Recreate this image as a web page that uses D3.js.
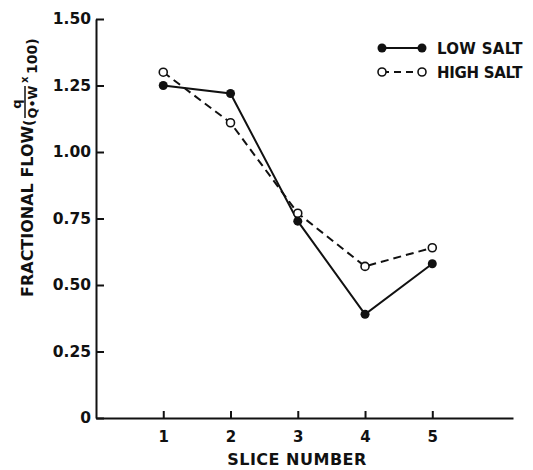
<!DOCTYPE html>
<html>
<head>
<meta charset="utf-8">
<script src="https://cdn.jsdelivr.net/npm/d3@7"></script>
<style>
  body { margin: 0; background: #fff; }
  text { font-family: "DejaVu Sans", sans-serif; font-weight: bold; fill: #111; }
</style>
</head>
<body>
<div id="chart"></div>
<script>
// data
const slices = [1, 2, 3, 4, 5];
const lowSalt = [1.25, 1.22, 0.74, 0.39, 0.58];
const highSalt = [1.30, 1.11, 0.77, 0.57, 0.64];
const yTicks = [0, 0.25, 0.5, 0.75, 1.0, 1.25, 1.5];
const yTickLabels = ["0", "0.25", "0.50", "0.75", "1.00", "1.25", "1.50"];
const seriesNames = ["LOW SALT", "HIGH SALT"];

const width = 533, height = 470;
const fontFamily = "'DejaVu Sans', sans-serif";

const svg = d3.select("#chart").append("svg")
    .attr("width", width)
    .attr("height", height);

const x = d3.scaleLinear().domain([0, 6.2]).range([96, 513]);
const y = d3.scaleLinear().domain([0, 1.5]).range([418, 19]);

// Y axis (ticks point inward)
svg.append("g")
    .attr("transform", `translate(${x(0)},0)`)
    .call(d3.axisLeft(y)
        .tickValues(yTicks)
        .tickFormat((d, i) => yTickLabels[i])
        .tickSizeInner(-8)
        .tickSizeOuter(0)
        .tickPadding(5))
    .call(g => g.selectAll("path, line").attr("stroke", "#111").attr("stroke-width", 2))
    .call(g => g.selectAll("text")
        .style("font-size", "15.5px")
        .style("font-family", fontFamily)
        .style("font-weight", "bold")
        .attr("fill", "#111"));

// X axis
svg.append("g")
    .attr("transform", `translate(0,${y(0)})`)
    .call(d3.axisBottom(x)
        .tickValues(slices)
        .tickFormat(d3.format("d"))
        .tickSizeInner(-7)
        .tickSizeOuter(0)
        .tickPadding(13))
    .call(g => g.selectAll("path, line").attr("stroke", "#111").attr("stroke-width", 2))
    .call(g => g.selectAll("text")
        .style("font-size", "15px")
        .style("font-family", fontFamily)
        .style("font-weight", "bold")
        .attr("fill", "#111"));

// Axis titles
svg.append("text")
    .attr("x", 297)
    .attr("y", 465)
    .attr("text-anchor", "middle")
    .style("font-size", "16px")
    .style("letter-spacing", "0.5px")
    .text("SLICE NUMBER");

const yTitle = svg.append("g")
    .attr("transform", "rotate(-90)");

yTitle.append("text")
    .attr("x", -297)
    .attr("y", 33)
    .style("font-size", "16px")
    .text("FRACTIONAL FLOW");

yTitle.append("text")
    .attr("x", -126)
    .attr("y", 34)
    .style("font-size", "14px")
    .text("(");

// fraction q / Q·W
yTitle.append("text")
    .attr("x", -104)
    .attr("y", 21)
    .attr("text-anchor", "middle")
    .style("font-size", "13px")
    .text("q");
yTitle.append("line")
    .attr("x1", -118).attr("x2", -86)
    .attr("y1", 25).attr("y2", 25)
    .attr("stroke", "#111").attr("stroke-width", 1.5);
yTitle.append("text")
    .attr("x", -102)
    .attr("y", 37)
    .attr("text-anchor", "middle")
    .style("font-size", "12.5px")
    .text("Q\u2022W");

yTitle.append("text")
    .attr("x", -83)
    .attr("y", 28)
    .style("font-size", "10px")
    .text("x");
yTitle.append("text")
    .attr("x", -74)
    .attr("y", 37)
    .style("font-size", "14px")
    .text("100)");

// Lines
const line = d3.line()
    .x((d, i) => x(slices[i]))
    .y(d => y(d));

svg.append("path")
    .datum(highSalt)
    .attr("d", line)
    .attr("fill", "none")
    .attr("stroke", "#111")
    .attr("stroke-width", 2)
    .attr("stroke-dasharray", "8,5");

svg.append("path")
    .datum(lowSalt)
    .attr("d", line)
    .attr("fill", "none")
    .attr("stroke", "#111")
    .attr("stroke-width", 2);

// Markers
svg.selectAll(".high")
    .data(highSalt)
    .join("circle")
    .attr("class", "high")
    .attr("cx", (d, i) => x(slices[i]))
    .attr("cy", d => y(d))
    .attr("r", 4)
    .attr("fill", "#fff")
    .attr("stroke", "#111")
    .attr("stroke-width", 1.6);

svg.selectAll(".low")
    .data(lowSalt)
    .join("circle")
    .attr("class", "low")
    .attr("cx", (d, i) => x(slices[i]))
    .attr("cy", d => y(d))
    .attr("r", 4.5)
    .attr("fill", "#111");

// Legend
const legend = svg.append("g");
seriesNames.forEach((name, i) => {
    const ly = 48 + i * 24;
    const g = legend.append("g").attr("transform", `translate(0,${ly})`);
    g.append("line")
        .attr("x1", 382).attr("x2", 422)
        .attr("y1", 0).attr("y2", 0)
        .attr("stroke", "#111")
        .attr("stroke-width", 2)
        .attr("stroke-dasharray", i === 0 ? null : "7,5");
    [382, 422].forEach(cx => {
        g.append("circle")
            .attr("cx", cx).attr("cy", 0)
            .attr("r", i === 0 ? 4.5 : 4)
            .attr("fill", i === 0 ? "#111" : "#fff")
            .attr("stroke", "#111")
            .attr("stroke-width", i === 0 ? 0 : 1.6);
    });
    g.append("text")
        .attr("x", 437)
        .attr("y", 6)
        .style("font-size", "15px")
        .style("letter-spacing", i === 0 ? "0.3px" : "-0.3px")
        .text(name);
});
</script>
</body>
</html>
